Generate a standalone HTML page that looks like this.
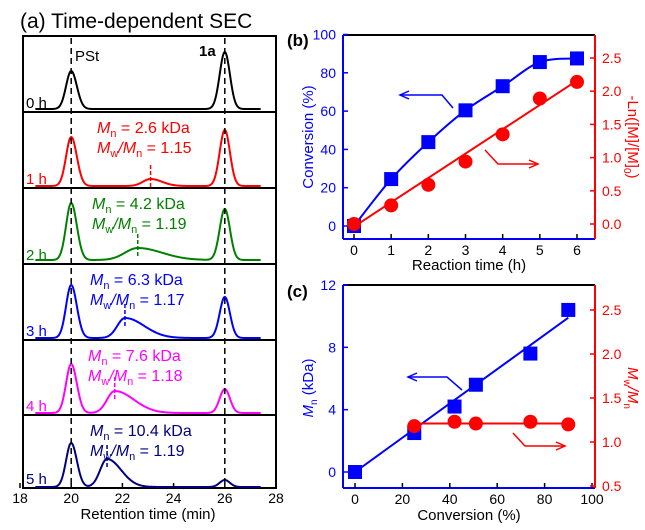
<!DOCTYPE html>
<html><head><meta charset="utf-8">
<style>
body{margin:0;background:#fff;}
svg{display:block;font-family:"Liberation Sans",Arial,sans-serif;}
</style></head>
<body>
<svg id="fig" width="645" height="530" viewBox="0 0 645 530" xmlns="http://www.w3.org/2000/svg">
<text x="20" y="28" font-size="21">(a) Time-dependent SEC</text>
<g id="pa"></g>
<g id="pb"></g>
<g id="pc"></g>
</svg>
<script>
// ---------- Panel (a) data ----------
const secTimes = ['0 h','1 h','2 h','3 h','4 h','5 h'];
const secColors = ['#000000','#ff0000','#008000','#0000ff','#ff00ff','#000080'];
const pstHeights = [38,49,57,53,49,44];
const monoHeights = [57,56,51,41,24,7];
const polyCenters = [0,23.1,22.6,22.1,21.7,21.4];
const polyHeights = [0,7,12,20,22,28];
const polySigL = [0.3,0.3,0.5,0.3,0.3,0.27];
const polySigR = [0.3,0.45,0.95,0.75,0.75,0.55];
const mnLabels = ['','2.6','4.2','6.3','7.6','10.4'];
const pdiLabels = ['','1.15','1.19','1.17','1.18','1.19'];
const secTicks = [18,20,22,24,26,28];
// ---------- Panel (b) data ----------
const timeH = [0,1,2,3,4,5,6];
const conversion = [0,24.5,43.8,60.4,73,85.6,87.5];
const lnM = [0,0.28,0.59,0.94,1.35,1.89,2.14];
const lnFit = [-0.04,2.16];
const bXTicks = [0,1,2,3,4,5,6];
const bLTicks = [0,20,40,60,80,100];
const bRTicks = ['0.0','0.5','1.0','1.5','2.0','2.5'];
// ---------- Panel (c) data ----------
const convC = [0,25,42,51,74,90];
const mnC = [0,2.5,4.2,5.6,7.6,10.4];
const convPdi = [25,42,51,74,90];
const pdiC = [1.18,1.23,1.21,1.23,1.20];
const mnFit = [0,9.9];
const pdiFit = 1.21;
const cXTicks = [0,20,40,60,80,100];
const cLTicks = [0,4,8,12];
const cRTicks = ['0.5','1.0','1.5','2.0','2.5'];

const NS='http://www.w3.org/2000/svg';
function mk(parent,tag,attrs,text){const e=document.createElementNS(NS,tag);for(const k in attrs)e.setAttribute(k,attrs[k]);if(text!==undefined)e.textContent=text;parent.appendChild(e);return e;}

// ===== Panel (a) =====
const pa=document.getElementById('pa');
const ax0=20, ax1=276;
const sx=t=>ax0+(t-18)*(ax1-ax0)/10;
const panelTops=[36,112,188,264,340,415,488];
const baseOff=[3,2,4,2,2,1];
function ag(t,c,h,sl,sr){const s=t<c?sl:sr;return h*Math.exp(-0.5*((t-c)/s)**2);}
for(let i=0;i<6;i++){
  const top=panelTops[i],bot=panelTops[i+1],base=bot-baseOff[i];
  const r=mk(pa,'rect',{x:ax0+3,y:top,width:ax1-ax0-3,height:bot-top,fill:'none',stroke:'#000','stroke-width':2});
  
  
  let d='';
  for(let t=18.6;t<=27.4;t+=0.02){
    let y=ag(t,20,pstHeights[i],0.2,0.22)+ag(t,26,monoHeights[i],0.2,0.2);
    if(polyHeights[i]>0)y+=ag(t,polyCenters[i],polyHeights[i],polySigL[i],polySigR[i]);
    d+=(d?'L':'M')+sx(t).toFixed(2)+','+(base-y).toFixed(2);
  }
  const p=mk(pa,'path',{d:d,fill:'none',stroke:secColors[i],'stroke-width':2});
  
  
  const tl=mk(pa,'text',{x:26,y:bot-4,'font-size':15,fill:secColors[i]},secTimes[i]);
  
  
  if(polyHeights[i]>0){
    const px=sx(polyCenters[i]),py=base-polyHeights[i];
    const m=mk(pa,'line',{x1:px,x2:px,y1:py+8,y2:py-14,stroke:secColors[i],'stroke-width':1.5,'stroke-dasharray':'4,2'});
    
    
    const lx=[0,97,92,90,88,90][i];
    const g=mk(pa,'g',{fill:secColors[i],'font-size':16});
    
    
    const t1=mk(g,'text',{x:lx,y:top+21});
    mk(t1,'tspan',{'font-style':'italic'},'M');mk(t1,'tspan',{dy:4,'font-size':11},'n');mk(t1,'tspan',{dy:-4},' = '+mnLabels[i]+' kDa');
    const t2=mk(g,'text',{x:lx,y:top+41});
    mk(t2,'tspan',{'font-style':'italic'},'M');mk(t2,'tspan',{dy:4,'font-size':11},'w');mk(t2,'tspan',{dy:-4,'font-style':'italic'},'/M');mk(t2,'tspan',{dy:4,'font-size':11},'n');mk(t2,'tspan',{dy:-4},' = '+pdiLabels[i]);
  }
}
[20,26].forEach(t=>{const l=mk(pa,'line',{x1:sx(t),x2:sx(t),y1:38,y2:488,stroke:'#000','stroke-width':1.5,'stroke-dasharray':'6,4'});

});
const pst=mk(pa,'text',{x:75,y:61,'font-size':15},'PSt');


const la=mk(pa,'text',{x:199,y:56,'font-size':15,'font-weight':'bold'},'1a');


secTicks.forEach(t=>{
  const tk=mk(pa,'line',{x1:sx(t),x2:sx(t),y1:488,y2:483,stroke:'#000','stroke-width':1.5});
  
  
  const lb=mk(pa,'text',{x:sx(t),y:503,'font-size':14,'text-anchor':'middle'},String(t));
  
  
});
const xat=mk(pa,'text',{x:148,y:519,'font-size':15,'text-anchor':'middle'},'Retention time (min)');



// generic dual-axis panel
function dualPanel(g,o){
  const X=v=>o.x0+(v-o.xmin)*(o.x1-o.x0)/(o.xmax-o.xmin);
  const YL=v=>o.yb+(v-o.lmin)*(o.yt-o.yb)/(o.lmax-o.lmin);
  const YR=v=>o.rb+(v-o.rmin)*(o.rtop-o.rb)/(o.rmax-o.rmin);
  mk(g,'line',{x1:o.L,x2:o.R,y1:o.T,y2:o.T,stroke:'#000','stroke-width':2});
  mk(g,'line',{x1:o.L,x2:o.R,y1:o.B,y2:o.B,stroke:'#0000ff','stroke-width':2});
  mk(g,'line',{x1:o.L,x2:o.L,y1:o.T,y2:o.B,stroke:'#0000ff','stroke-width':2});
  mk(g,'line',{x1:o.R,x2:o.R,y1:o.T,y2:o.B,stroke:'#ff0000','stroke-width':2});
  o.xt.forEach(v=>{mk(g,'line',{x1:X(v),x2:X(v),y1:o.B,y2:o.B-5,stroke:'#000','stroke-width':1.5});
    const t=mk(g,'text',{x:X(v),y:o.B+16,'font-size':14,'text-anchor':'middle'},String(v));
    
    });
  o.lt.forEach(v=>{mk(g,'line',{x1:o.L,x2:o.L+5,y1:YL(v),y2:YL(v),stroke:'#0000ff','stroke-width':1.5});
    const t=mk(g,'text',{x:o.L-7,y:YL(v)+5,'font-size':14,'text-anchor':'end',fill:'#0000ff'},String(v));
    
    });
  o.rticks.forEach(v=>{const y=YR(parseFloat(v));mk(g,'line',{x1:o.R,x2:o.R-5,y1:y,y2:y,stroke:'#ff0000','stroke-width':1.5});
    const t=mk(g,'text',{x:o.R+7,y:y+5,'font-size':14,fill:'#ff0000'},v);
    
    });
  return {X,YL,YR};
}
function sq(g,x,y,name){const r=mk(g,'rect',{x:x-7,y:y-7,width:14,height:14,fill:'#0000ff'});
  
  }
function ci(g,x,y,name){const c=mk(g,'circle',{cx:x,cy:y,r:7,fill:'#ff0000'});
  
  }
function arrow(g,pts,col,dir,name){
  const p=mk(g,'polyline',{points:pts.map(p=>p.join(',')).join(' '),fill:'none',stroke:col,'stroke-width':1.5});
  
  
  const e=pts[pts.length-1];
  mk(g,'polyline',{points:`${e[0]-dir*9},${e[1]-4} ${e[0]},${e[1]} ${e[0]-dir*9},${e[1]+4}`,fill:'none',stroke:col,'stroke-width':1.5});
}

// ===== Panel (b) =====
const pb=document.getElementById('pb');
const B=dualPanel(pb,{L:343,R:595,T:35,B:239,x0:354,x1:577,xmin:0,xmax:6,yb:226,yt:34.5,lmin:0,lmax:100,rb:224,rtop:58,rmin:0,rmax:2.5,xt:bXTicks,lt:bLTicks,rticks:bRTicks});
(function(){
  const P=timeH.map((t,i)=>[B.X(t),B.YL(conversion[i])]);
  let d='M'+P[0].join(',');
  for(let i=0;i<P.length-1;i++){
    const p0=P[Math.max(0,i-1)],p1=P[i],p2=P[i+1],p3=P[Math.min(P.length-1,i+2)];
    d+=`C${p1[0]+(p2[0]-p0[0])/6},${p1[1]+(p2[1]-p0[1])/6} ${p2[0]-(p3[0]-p1[0])/6},${p2[1]-(p3[1]-p1[1])/6} ${p2[0]},${p2[1]}`;
  }
  const c=mk(pb,'path',{d:d,fill:'none',stroke:'#0000ff','stroke-width':2});
  
  
  const l=mk(pb,'line',{x1:B.X(0),y1:B.YR(lnFit[0]),x2:B.X(6),y2:B.YR(lnFit[1]),stroke:'#ff0000','stroke-width':2});
  
  
  timeH.forEach((t,i)=>sq(pb,B.X(t),B.YL(conversion[i]),'conversion-point'));
  timeH.forEach((t,i)=>ci(pb,B.X(t),B.YR(lnM[i]),'ln-point'));
})();
arrow(pb,[[453,108],[442,95],[400,95]],'#0000ff',-1,'left-axis-arrow');
arrow(pb,[[485,150],[498,164],[538,164]],'#ff0000',1,'right-axis-arrow');
let t;
t=mk(pb,'text',{x:287,y:46,'font-size':17,'font-weight':'bold'},'(b)');
t=mk(pb,'text',{x:469,y:270,'font-size':15,'text-anchor':'middle'},'Reaction time (h)');
t=mk(pb,'text',{transform:'translate(313,137) rotate(-90)','font-size':15,'text-anchor':'middle',fill:'#0000ff'},'Conversion (%)');
t=mk(pb,'text',{transform:'translate(628,137) rotate(90)','font-size':15,'text-anchor':'middle',fill:'#ff0000'});
mk(t,'tspan',{},'-Ln([M]/[M]');mk(t,'tspan',{dy:4,'font-size':10},'0');mk(t,'tspan',{dy:-4},')');

// ===== Panel (c) =====
const pc=document.getElementById('pc');
const C=dualPanel(pc,{L:343,R:595,T:285,B:488,x0:355,x1:592,xmin:0,xmax:100,yb:472,yt:285,lmin:0,lmax:12,rb:486,rtop:310,rmin:0.5,rmax:2.5,xt:cXTicks,lt:cLTicks,rticks:cRTicks});
(function(){
  const l=mk(pc,'line',{x1:C.X(0),y1:C.YL(mnFit[0]),x2:C.X(90),y2:C.YL(mnFit[1]),stroke:'#0000ff','stroke-width':2});
  
  
  const h=mk(pc,'line',{x1:C.X(convPdi[0]),y1:C.YR(pdiFit),x2:C.X(convPdi[convPdi.length-1]),y2:C.YR(pdiFit),stroke:'#ff0000','stroke-width':2});
  
  
  convC.forEach((v,i)=>sq(pc,C.X(v),C.YL(mnC[i]),'mn-point'));
  convPdi.forEach((v,i)=>ci(pc,C.X(v),C.YR(pdiC[i]),'pdi-point'));
})();
arrow(pc,[[462,390],[447,377],[408,377]],'#0000ff',-1,'left-axis-arrow');
arrow(pc,[[513,433],[525,446],[565,446]],'#ff0000',1,'right-axis-arrow');
t=mk(pc,'text',{x:287,y:297,'font-size':17,'font-weight':'bold'},'(c)');
t=mk(pc,'text',{x:469,y:520,'font-size':15,'text-anchor':'middle'},'Conversion (%)');
t=mk(pc,'text',{transform:'translate(313,388) rotate(-90)','font-size':15,'text-anchor':'middle',fill:'#0000ff'});
mk(t,'tspan',{'font-style':'italic'},'M');mk(t,'tspan',{dy:4,'font-size':10},'n');mk(t,'tspan',{dy:-4},' (kDa)');
t=mk(pc,'text',{transform:'translate(628,388) rotate(90)','font-size':15,'text-anchor':'middle',fill:'#ff0000'});
mk(t,'tspan',{'font-style':'italic'},'M');mk(t,'tspan',{dy:4,'font-size':10},'w');mk(t,'tspan',{dy:-4,'font-style':'italic'},'/M');mk(t,'tspan',{dy:4,'font-size':10},'n');
</script>
</body></html>
